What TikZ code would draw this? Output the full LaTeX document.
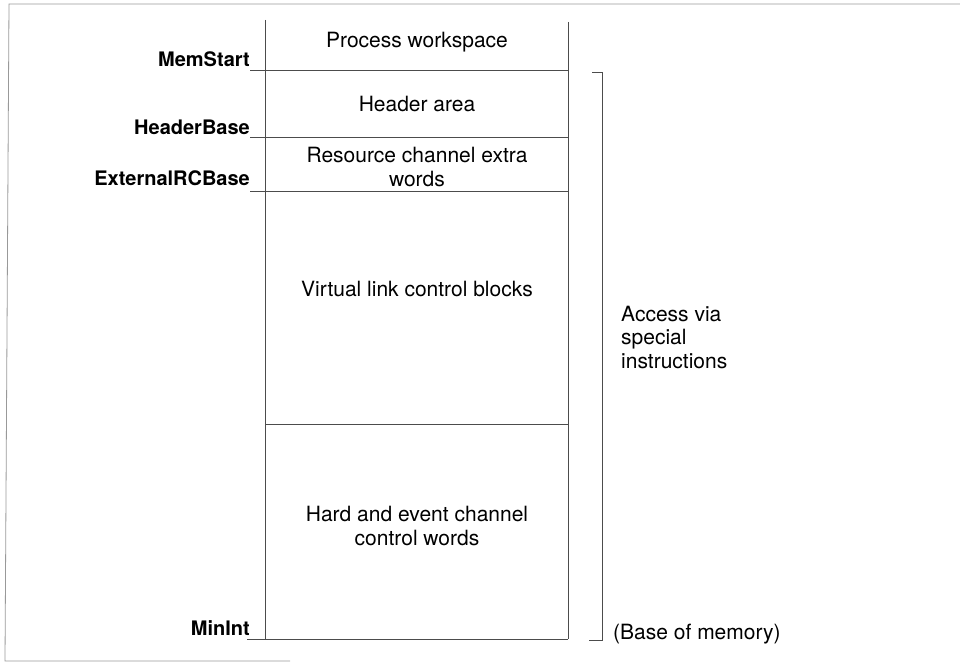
\documentclass[tikz,border=0pt]{standalone}
\usepackage{fontspec}
\setmainfont{TeX Gyre Heros}
\begin{document}
\begin{tikzpicture}[x=1pt,y=-1pt,
  rule/.style={draw=black!70,line width=0.7pt},
  frame/.style={draw=black!40,line width=0.8pt},
  txt/.style={inner sep=0pt,font=\fontsize{21}{24}\selectfont},
  lbl/.style={inner sep=0pt,anchor=base east,font=\fontsize{20}{24}\selectfont\bfseries},
  multi/.style={txt,align=center},
  side/.style={inner sep=0pt,font=\fontsize{21}{23.5}\selectfont,align=left}]
\useasboundingbox (0,0) rectangle (960,666);
% scanned page frame
\coordinate (f1) at (960,4);
\coordinate (f2) at (9,4);
\coordinate (f3) at (5,661);
\coordinate (f4) at (290,661);
\draw[frame] (f1) -- (f2) -- (f3) -- (f4);
% box corners and levels
\coordinate (lt) at (265,20);
\coordinate (rt) at (568,22);
\coordinate (lb) at (265,639);
\coordinate (rb) at (568,639);
\coordinate (ms0) at (250,70);   \coordinate (ms1) at (568,70);
\coordinate (hb0) at (250,137);  \coordinate (hb1) at (568,137);
\coordinate (er0) at (250,191);  \coordinate (er1) at (568,191);
\coordinate (vd0) at (265,424);  \coordinate (vd1) at (568,424);
\coordinate (mi0) at (247,639);
\draw[rule] (lt) -- (lb);
\draw[rule] (rt) -- (rb);
\draw[rule] (ms0) -- (ms1);
\draw[rule] (hb0) -- (hb1);
\draw[rule] (er0) -- (er1);
\draw[rule] (vd0) -- (vd1);
\draw[rule] (mi0) -- (rb);
% bracket
\coordinate (b1) at (592,72);
\coordinate (b2) at (602,72);
\coordinate (b3) at (602,640);
\coordinate (b4) at (589,640);
\draw[rule] (b1) -- (b2) -- (b3) -- (b4);
% left labels
\node[lbl] (memstart) at (250,67) {MemStart};
\node[lbl] (headerbase) at (250,134) {HeaderBase};
\node[lbl] (extrc) at (250,185) {ExternalRCBase};
\node[lbl] (minint) at (250,635) {MinInt};
% box texts
\node[txt,anchor=base] (pw) at (417,48) {Process workspace};
\node[txt,anchor=base] (ha) at (417,112) {Header area};
\node[multi] (rc) at (417,167) {Resource channel extra\\words};
\node[txt,anchor=base] (vl) at (417,296) {Virtual link control blocks};
\node[multi] (hc) at (417,526) {Hard and event channel\\control words};
% right texts
\node[side,anchor=west] (acc) at (621,337) {Access via\\special\\instructions};
\node[txt,anchor=base west] (base) at (613,639) {(Base of memory)};
\end{tikzpicture}
\end{document}
